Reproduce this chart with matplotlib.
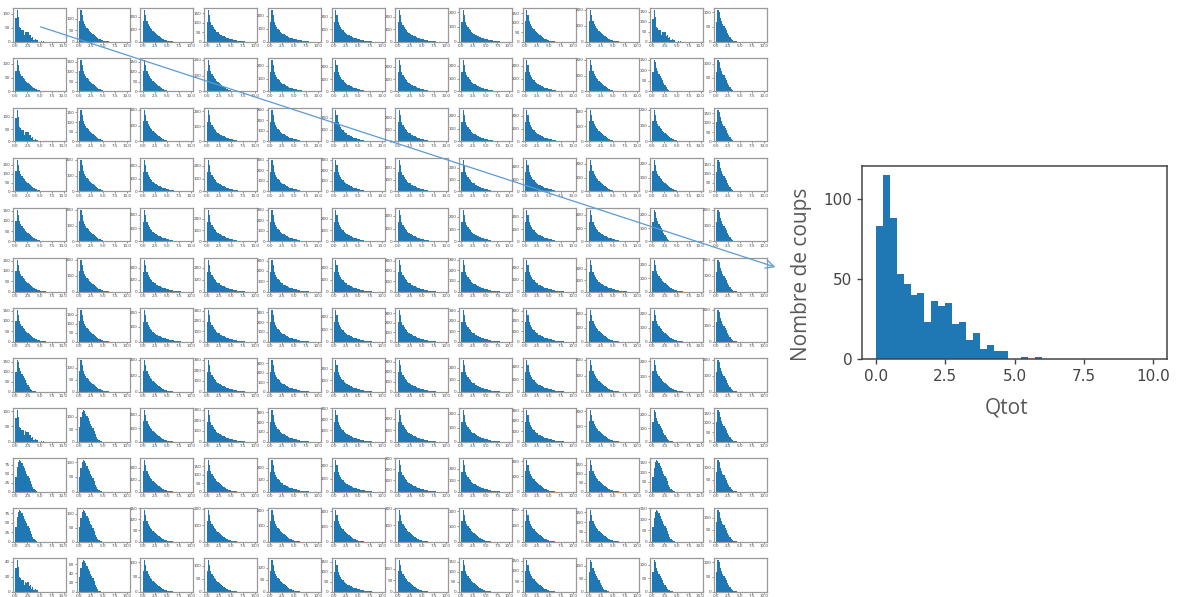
import numpy as np
import matplotlib
matplotlib.use("Agg")
import matplotlib.pyplot as plt
from matplotlib.patches import FancyArrowPatch

# histogramme détaillé (panneau 1), pas de 0.25 sur [0, 10]
bin_edges = np.linspace(0, 10, 41)
detail_counts = [83, 115, 88, 53, 47, 40, 41, 23, 36, 33, 35, 22, 23, 12, 16, 6, 9, 5, 5,
                 0, 0, 1, 0, 1]

# formes relues sur les petits panneaux (max = 100)
profile_long = [60, 100, 82, 62, 52, 45, 40, 35, 31, 28, 25, 22, 20, 18, 16, 14, 12, 11, 10,
                9, 8, 7, 6, 5, 4, 3, 2.5, 2, 1.5, 1, 0.5, 0.5]
profile_mid = [65, 100, 84, 64, 55, 48, 43, 38, 33, 29, 26, 23, 20, 17, 14, 11, 9, 7, 5,
               3.5, 2.5, 1.5, 1, 0.5, 0.5]
profile_short = [60, 100, 92, 75, 64, 56, 50, 43, 35, 27, 20, 13, 8, 5, 3, 1.5, 0.5]
profile_broad = [45, 75, 92, 100, 95, 88, 80, 72, 64, 56, 50, 42, 32, 22, 13, 7, 3.5, 1.5, 0.5]
profile_lumpy = [72, 100, 77, 46, 41, 35, 36, 20, 31, 29, 30, 19, 20, 10, 14, 5, 8, 4, 4,
                 0, 0, 1, 0, 1]

# type de forme par panneau (L long, M moyen, S court, B large, K irrégulier)
panel_shapes = [
    "KMMLLLLLMMKS",
    "MMMMLLLLLMSS",
    "KMMLLLLLLMMS",
    "MMLLLLLLLMMS",
    "MMLLLLLLLLSS",
    "MMLLLLLLLLMS",
    "MMLLLLLLLMMS",
    "SMMLLLLLLMMS",
    "KBMLLLLLLMSS",
    "BBMMLLLLMMBS",
    "BBMMMMMMMMBS",
    "KBMMMLMMMSSS",
]

# nombre de coups maximal lu sur chaque panneau
panel_peaks = [
    [115, 140, 260, 170, 250, 260, 260, 220, 170, 200, 160, 110],
    [115, 160, 160, 200, 250, 260, 260, 250, 250, 200, 150, 115],
    [130, 165, 200, 210, 300, 270, 270, 250, 250, 210, 200, 170],
    [180, 200, 250, 250, 300, 300, 270, 270, 260, 230, 230, 180],
    [155, 200, 240, 280, 300, 280, 250, 260, 260, 240, 240, 200],
    [155, 200, 270, 270, 310, 270, 310, 300, 270, 280, 240, 200],
    [155, 180, 220, 310, 330, 260, 340, 310, 310, 230, 230, 200],
    [160, 135, 200, 300, 340, 280, 320, 270, 260, 200, 210, 200],
    [105, 130, 240, 300, 330, 290, 280, 230, 310, 210, 240, 170],
    [90, 110, 270, 190, 270, 250, 290, 280, 210, 180, 165, 135],
    [85, 115, 145, 195, 205, 210, 195, 210, 200, 165, 145, 135],
    [43, 70, 110, 125, 135, 160, 140, 160, 155, 125, 120, 110],
]

profiles = {"L": profile_long, "M": profile_mid, "S": profile_short,
            "B": profile_broad, "K": profile_lumpy}

W, H = 1177, 597
fig = plt.figure(figsize=(W / 100, H / 100), dpi=100)
bar_color = "#1f77b4"

# grille 12 x 12
for r in range(12):
    for c in range(12):
        x0, y0 = 13 + 63.7 * c, 8 + 50 * r
        ax = fig.add_axes([x0 / W, 1 - (y0 + 33.5) / H, 53 / W, 33.5 / H])
        if r == 0 and c == 0:
            h = list(detail_counts)
        else:
            prof = profiles[panel_shapes[r][c]]
            h = [round(v * panel_peaks[r][c] / 100) for v in prof]
        h = h + [0] * (40 - len(h))
        ax.hist(bin_edges[:-1], bins=bin_edges, weights=h, color=bar_color)
        ax.set_xticks([0, 2.5, 5, 7.5, 10])
        ax.tick_params(labelsize=3.0, length=1.2, width=0.4, pad=0.8, colors="#444444")
        for s in ax.spines.values():
            s.set_color("#999999")
            s.set_linewidth(0.9)

# panneau agrandi
bx = fig.add_axes([862 / W, 1 - 359 / H, 305 / W, 193 / H])
bx.hist(bin_edges[:-1], bins=bin_edges, weights=detail_counts + [0] * (40 - len(detail_counts)),
        color=bar_color)
bx.set_xticks([0, 2.5, 5, 7.5, 10])
bx.set_yticks([0, 50, 100])
bx.tick_params(labelsize=11, colors="#444444", width=1)
for s in bx.spines.values():
    s.set_color("#444444")
    s.set_linewidth(1.1)
bx.set_ylabel("Nombre de coups", fontsize=15, color="#595959", family="Open Sans")
bx.yaxis.set_label_coords(-0.165, 0.44)
bx.set_xlabel("Qtot", fontsize=15, color="#595959", family="Open Sans")
bx.xaxis.set_label_coords(0.475, -0.2)

# flèche
arrow = FancyArrowPatch((38 / W, 1 - 26 / H), (778 / W, 1 - 268 / H),
                        transform=fig.transFigure, arrowstyle="->,head_length=6,head_width=3",
                        color="#5b9bd5", lw=0.9)
fig.add_artist(arrow)

fig.savefig("out.png", dpi=100)
